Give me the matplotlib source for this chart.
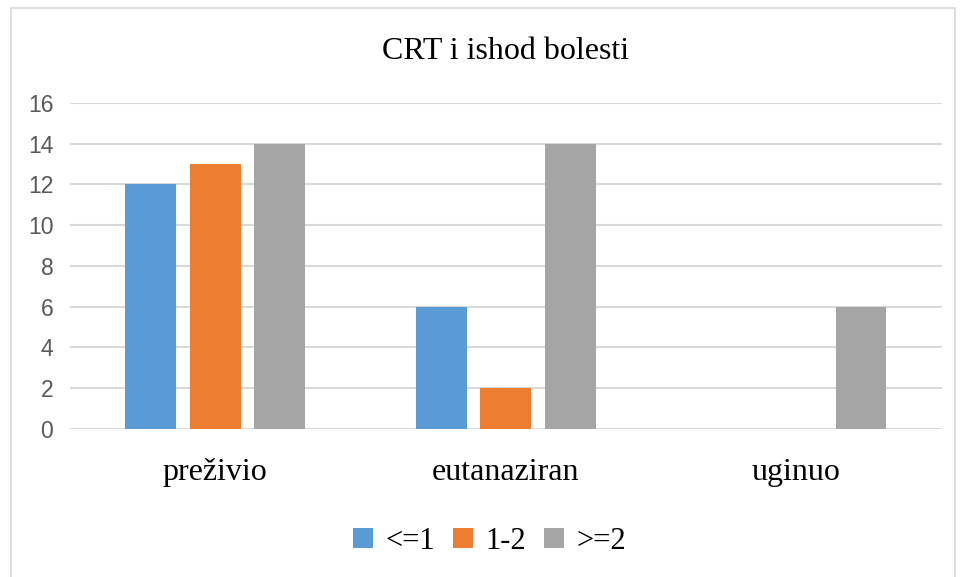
import matplotlib
matplotlib.use('Agg')
import matplotlib.pyplot as plt
import numpy as np
from matplotlib.patches import Rectangle

categories = ['preživio', 'eutanaziran', 'uginuo']
series = ['<=1', '1-2', '>=2']
vals_le1 = [12, 6, 0]
vals_12 = [13, 2, 0]
vals_ge2 = [14, 14, 6]
colors = ['#5B9BD5', '#ED7D31', '#A5A5A5']

fig = plt.figure(figsize=(9.6, 5.77), dpi=100)
ax = fig.add_axes([0.0729, 0.2565, 0.9081, 0.565])

# light frame around the whole chart
fig.patches.append(Rectangle((0.011, -0.02), 0.984, 1.006, transform=fig.transFigure,
                             fill=False, edgecolor='#D9D9D9', linewidth=1.2))

ind = np.arange(len(categories))
width = 0.175
step = 0.222
for i, (vals, lab) in enumerate(zip([vals_le1, vals_12, vals_ge2], series)):
    ax.bar(ind + (i - 1) * step, vals, width, color=colors[i], label=lab, zorder=3)

ax.set_xlim(-0.5, 2.5)
ax.set_ylim(0, 16)
ax.set_yticks(range(0, 17, 2))
ax.yaxis.grid(True, color='#D9D9D9', linewidth=1.5, zorder=0)
for s in ax.spines.values():
    s.set_visible(False)
ax.tick_params(axis='y', length=0, pad=12, labelsize=16.5, labelcolor='#595959')
ax.tick_params(axis='x', length=0, pad=21)
for lbl in ax.get_yticklabels():
    lbl.set_family('Liberation Sans')
ax.set_xticks(ind)
ax.set_xticklabels(categories, fontsize=23, family='Liberation Serif')

ax.set_title('CRT i ishod bolesti', fontsize=23, family='Liberation Serif', pad=32)

leg = fig.legend(loc='center', bbox_to_anchor=(0.51, 0.062), ncol=3, frameon=False,
                 prop={'family': 'Liberation Serif', 'size': 22},
                 handlelength=0.65, handleheight=0.65, handletextpad=0.4, columnspacing=0.6)

fig.savefig('out.png', dpi=100)
